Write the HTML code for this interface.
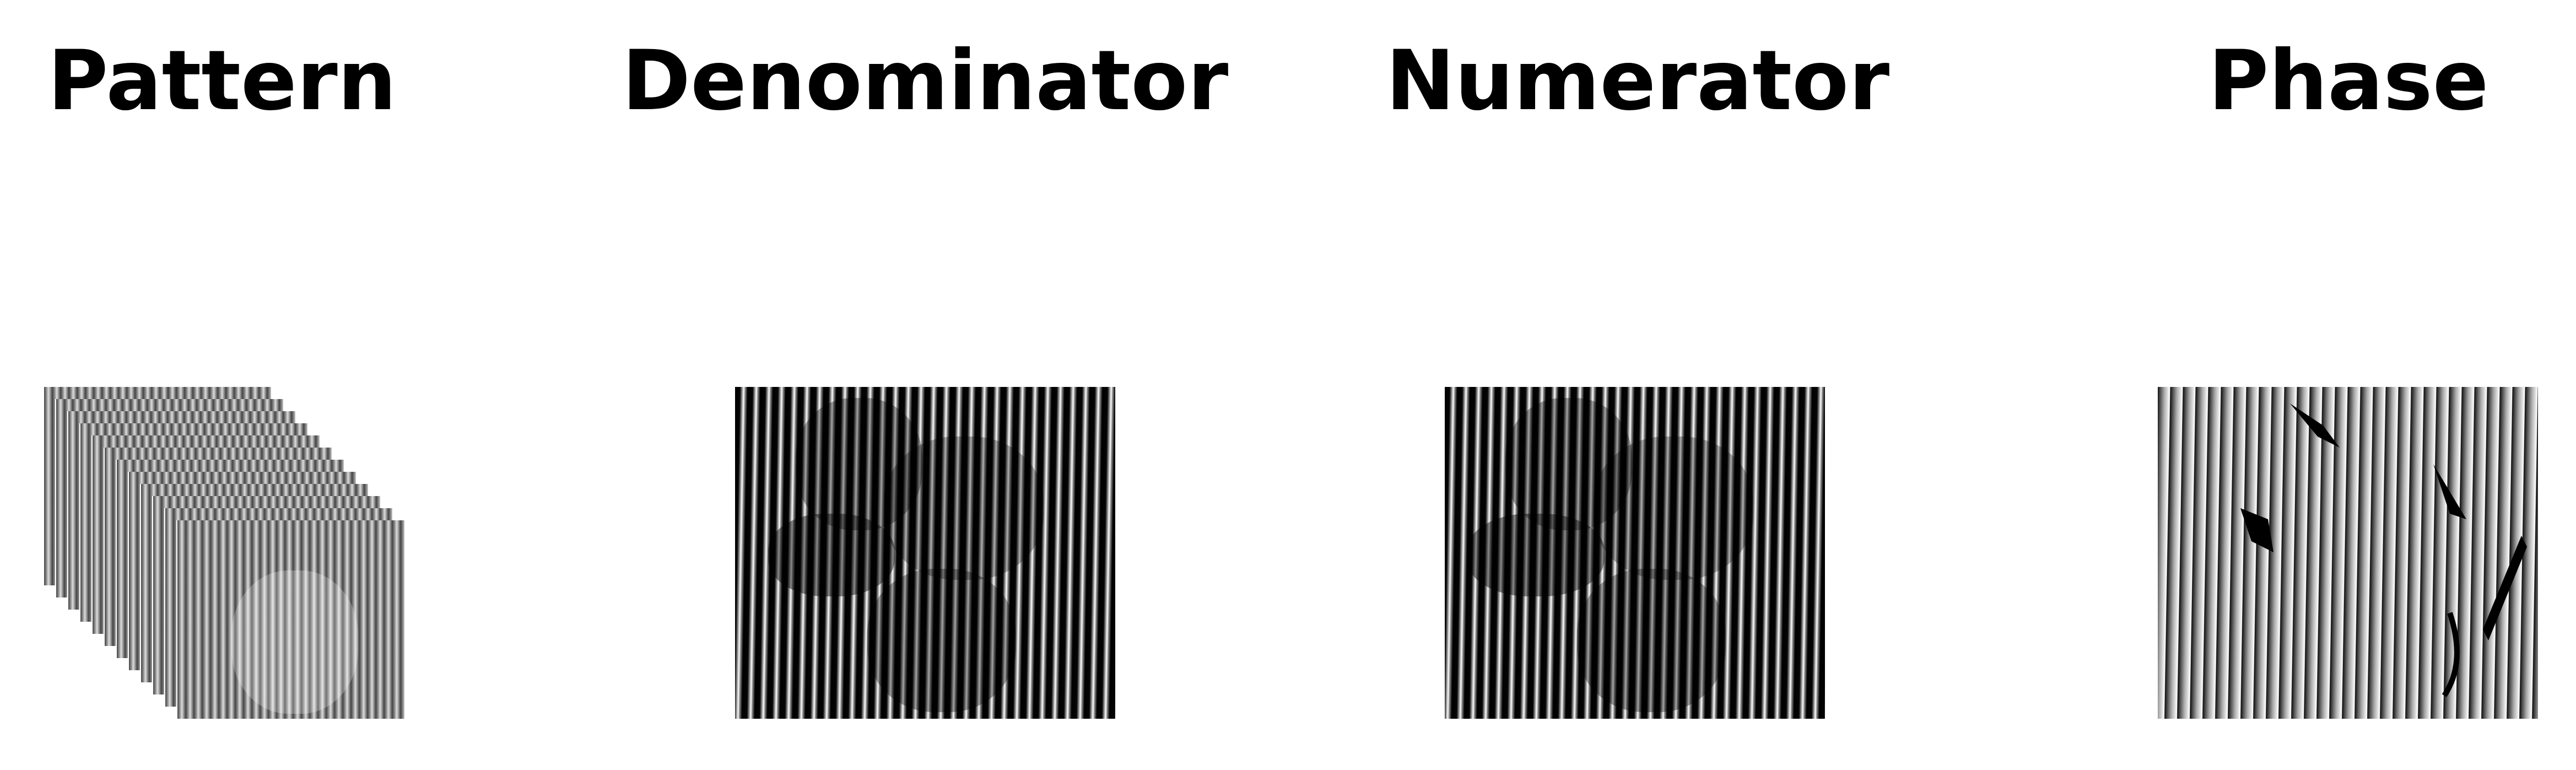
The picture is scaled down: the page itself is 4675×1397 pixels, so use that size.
<!DOCTYPE html>
<html><head><meta charset="utf-8"><style>
html,body{margin:0;padding:0;background:#fff;}
#root{position:relative;width:4675px;height:1397px;overflow:hidden;background:#fff;font-family:"DejaVu Sans","Liberation Sans",sans-serif;}
.title{position:absolute;top:62px;font-weight:bold;font-size:150px;line-height:170px;color:#000;transform:translateX(-50%);white-space:nowrap;}
.panel{position:absolute;top:702px;width:690px;height:602px;overflow:hidden;}
.den,.num{background:repeating-linear-gradient(91deg,#000 0px,#050505 9px,#bbb 14px,#fff 16px,#999 18px,#000 23px);}
.pha{background:repeating-linear-gradient(91deg,#111 0px,#555 5px,#aaa 12px,#fff 22px,#111 23px);}
.frame{position:absolute;width:412px;height:360px;background:repeating-linear-gradient(90deg,#444 0px,#888 4px,#ddd 8px,#888 12px,#444 15px);}
.blob{position:absolute;border-radius:45%;}
</style></head><body>
<div id="root">
<div class="title" style="left:403px">Pattern</div>
<div class="title" style="left:1679px">Denominator</div>
<div class="title" style="left:2972px">Numerator</div>
<div class="title" style="left:4262px">Phase</div>

<div id="pattern" style="position:absolute;left:0;top:0;width:800px;height:1397px;"></div>

<div class="panel den" style="left:1334px">
 <div class="blob" style="left:110px;top:20px;width:230px;height:240px;background:rgba(0,0,0,0.35)"></div>
 <div class="blob" style="left:270px;top:90px;width:290px;height:260px;background:rgba(0,0,0,0.3)"></div>
 <div class="blob" style="left:60px;top:230px;width:230px;height:150px;background:rgba(0,0,0,0.45)"></div>
 <div class="blob" style="left:240px;top:330px;width:270px;height:260px;background:rgba(0,0,0,0.35)"></div>
</div>
<div class="panel num" style="left:2622px">
 <div class="blob" style="left:110px;top:20px;width:230px;height:240px;background:rgba(0,0,0,0.35)"></div>
 <div class="blob" style="left:270px;top:90px;width:290px;height:260px;background:rgba(0,0,0,0.3)"></div>
 <div class="blob" style="left:40px;top:230px;width:250px;height:150px;background:rgba(0,0,0,0.45)"></div>
 <div class="blob" style="left:240px;top:330px;width:270px;height:260px;background:rgba(0,0,0,0.35)"></div>
</div>
<div class="panel pha" style="left:3916px">
 <svg width="690" height="602" style="position:absolute;left:0;top:0">
  <path d="M240 30 L300 70 L330 110 L290 90 Z" fill="#000"/>
  <path d="M150 220 L200 240 L210 300 L170 280 Z" fill="#000"/>
  <path d="M500 140 L560 240 L530 230 Z" fill="#000"/>
  <path d="M660 270 L670 290 L600 460 L590 440 Z" fill="#000"/>
  <path d="M530 410 Q560 500 520 560" stroke="#000" stroke-width="10" fill="none"/>
 </svg>
</div>
</div>
<script>
const frameCount = 12;
const host = document.getElementById('pattern');
for (let i = 0; i < frameCount; i++) {
  const f = document.createElement('div');
  f.className = 'frame';
  f.style.left = (80 + i * 22) + 'px';
  f.style.top = (702 + i * 22) + 'px';
  f.style.boxShadow = '-2px 0 0 #fff';
  
  
  host.appendChild(f);
}
const b = document.createElement('div');
b.className = 'blob';
b.style.cssText += 'left:420px;top:1035px;width:230px;height:260px;background:rgba(255,255,255,0.25);';


host.appendChild(b);
</script>
</body></html>
